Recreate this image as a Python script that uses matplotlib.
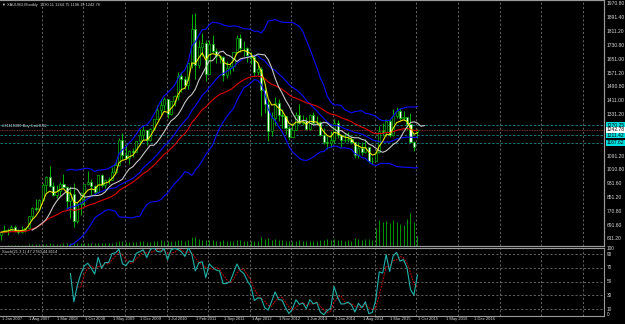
"""Monthly XAUUSD candles with moving averages, Bollinger bands, volume and stochastic."""

import matplotlib.pyplot as plt
import pandas as pd
from matplotlib.transforms import blended_transform_factory

plt.rcParams['font.family'] = ['Liberation Sans', 'DejaVu Sans']

# monthly bars, bar 0 = Jan 2007, one row of 12 per year
opens = [632, 650, 665, 662, 681, 657, 650, 665, 672, 743, 789, 783,
         834, 923, 972, 916, 865, 887, 928, 913, 833, 871, 718, 814,
         880, 927, 942, 916, 884, 980, 926, 955, 955, 1001, 1040, 1182,
         1096, 1081, 1118, 1113, 1180, 1213, 1244, 1181, 1247, 1307, 1357, 1386,
         1421, 1332, 1411, 1439, 1556, 1536, 1500, 1628, 1826, 1620, 1723, 1746,
         1564, 1737, 1697, 1668, 1664, 1561, 1598, 1614, 1692, 1773, 1719, 1714,
         1675, 1663, 1578, 1596, 1476, 1393, 1234, 1313, 1396, 1327, 1323, 1253,
         1202, 1244, 1326, 1284, 1296, 1246, 1327, 1282, 1287, 1210, 1171, 1167,
         1184, 1283, 1213, 1183, 1184, 1190, 1172, 1095, 1135, 1115, 1142, 1065,
         1061, 1116, 1238, 1233, 1293, 1215, 1322, 1351, 1309, 1316, 1277, 1173,
         1230.11]
highs = [660, 690, 672, 692, 692, 669, 684, 675, 745, 795, 845, 840,
         933, 975, 1033, 940, 924, 938, 988, 915, 920, 935, 825, 883,
         930, 1006, 960, 925, 981, 989, 960, 967, 1025, 1071, 1195, 1227,
         1163, 1127, 1140, 1180, 1249, 1265, 1244, 1251, 1308, 1388, 1424, 1431,
         1424, 1411, 1447, 1576, 1577, 1556, 1632, 1913, 1921, 1764, 1803, 1764,
         1763, 1791, 1718, 1678, 1668, 1640, 1628, 1692, 1790, 1796, 1755, 1723,
         1695, 1684, 1617, 1605, 1488, 1424, 1348, 1434, 1424, 1361, 1325, 1267,
         1280, 1345, 1392, 1331, 1315, 1332, 1345, 1322, 1293, 1255, 1205, 1238,
         1307, 1297, 1219, 1224, 1232, 1205, 1175, 1170, 1170, 1191, 1142, 1088,
         1127, 1263, 1283, 1304, 1304, 1362, 1375, 1367, 1353, 1317, 1338, 1180,
         1244.75]
lows = [608, 646, 636, 661, 653, 640, 647, 650, 668, 723, 774, 782,
        834, 885, 911, 860, 850, 860, 908, 786, 735, 681, 705, 750,
        803, 925, 866, 865, 879, 913, 906, 932, 952, 995, 1033, 1075,
        1074, 1044, 1087, 1112, 1156, 1185, 1155, 1178, 1241, 1307, 1330, 1357,
        1309, 1328, 1380, 1418, 1462, 1478, 1480, 1603, 1535, 1600, 1670, 1523,
        1564, 1690, 1628, 1628, 1527, 1542, 1565, 1583, 1690, 1692, 1672, 1636,
        1626, 1555, 1562, 1321, 1338, 1180, 1208, 1272, 1291, 1251, 1221, 1182,
        1202, 1240, 1277, 1268, 1240, 1240, 1281, 1280, 1207, 1161, 1130, 1142,
        1167, 1197, 1142, 1170, 1170, 1162, 1077, 1080, 1099, 1107, 1053, 1046,
        1061, 1108, 1208, 1207, 1199, 1208, 1310, 1302, 1302, 1241, 1171, 1122,
        1198.19]
closes = [650, 665, 662, 681, 657, 650, 665, 672, 743, 789, 783, 834,
          923, 972, 916, 865, 887, 928, 913, 833, 871, 718, 814, 880,
          927, 942, 916, 884, 980, 926, 955, 955, 1001, 1040, 1182, 1096,
          1081, 1118, 1113, 1180, 1213, 1244, 1181, 1247, 1307, 1357, 1386, 1421,
          1332, 1411, 1439, 1556, 1536, 1500, 1628, 1826, 1620, 1723, 1746, 1564,
          1737, 1697, 1668, 1664, 1561, 1598, 1614, 1692, 1773, 1719, 1714, 1675,
          1663, 1578, 1596, 1476, 1393, 1234, 1313, 1396, 1327, 1323, 1253, 1202,
          1244, 1326, 1284, 1296, 1246, 1327, 1282, 1287, 1210, 1171, 1167, 1184,
          1283, 1213, 1183, 1184, 1190, 1172, 1095, 1135, 1115, 1142, 1065, 1061,
          1116, 1238, 1233, 1293, 1215, 1322, 1351, 1309, 1316, 1277, 1173, 1146,
          1242.78]
volumes = [0, 0, 1, 1, 1, 1, 1, 1, 2, 2, 2, 2,
           2, 2, 3, 2, 2, 2, 3, 3, 3, 4, 3, 3,
           3, 3, 3, 3, 3, 3, 3, 3, 3, 4, 5, 5,
           4, 4, 4, 4, 5, 5, 4, 4, 5, 5, 6, 5,
           5, 5, 5, 6, 6, 5, 6, 9, 9, 7, 6, 6,
           6, 6, 5, 5, 6, 5, 5, 5, 6, 6, 5, 5,
           5, 5, 5, 9, 7, 8, 6, 7, 6, 6, 5, 5,
           5, 5, 6, 5, 5, 5, 5, 5, 6, 6, 7, 6,
           7, 6, 6, 5, 6, 5, 8, 7, 6, 7, 7, 6,
           18, 26, 24, 25, 23, 26, 24, 22, 21, 27, 33, 24,
           10]

date_labels = ['1 Jan 2007', '1 Aug 2007', '1 Mar 2008', '1 Oct 2008',
               '1 May 2009', '1 Dec 2009', '1 Jul 2010', '1 Feb 2011',
               '1 Sep 2011', '1 Apr 2012', '1 Nov 2012', '1 Jun 2013',
               '1 Jan 2014', '1 Aug 2014', '1 Mar 2015', '1 Oct 2015',
               '1 May 2016', '1 Dec 2016']
price_ticks = [1970.80, 1891.40, 1811.20, 1730.80, 1651.00, 1571.20, 1490.80,
               1411.00, 1331.20, 1091.20, 1010.80, 931.60, 851.20, 770.80,
               691.60, 611.20]
level_prices = [1270.25, 1211.42, 1167.62]
bid_price = 1242.78
stoch_levels = [10, 30, 50, 70, 90]
stoch_labels = ['100', '90', '70', '50', '30', '10', '0']
stoch_label_pos = [98, 90, 70, 50, 30, 10, 1.5]

GREEN = '#00b400'
GRID = '#8a8a8a'
TEXT = '#d8d8d8'
BAR_PX = 3.47          # pixels per monthly bar in the original screenshot

# indicators as configured on the chart
price = pd.DataFrame({'o': opens, 'h': highs, 'l': lows, 'c': closes})
ema_fast = price['c'].ewm(span=5, adjust=False).mean()
sma_shift = price['c'].rolling(8).mean()
ema_slow = price['c'].ewm(span=30, adjust=False).mean()
bb_mid = price['c'].rolling(20).mean()
bb_std = price['c'].rolling(20).std(ddof=0)
lowest = price['l'].rolling(21).min()
highest = price['h'].rolling(21).max()
stoch_main = 100 * (price['c'] - lowest) / (highest - lowest)
stoch_signal = stoch_main.rolling(3).mean()

fig = plt.figure(figsize=(6.25, 3.24), dpi=100, facecolor='black')
ax = fig.add_axes([0, 1 - 246 / 324, 604 / 625, 246 / 324])
axs = fig.add_axes([0, 1 - 316 / 324, 604 / 625, 68 / 324], facecolor='black')
axv = fig.add_axes(ax.get_position(), sharex=ax)
axv.set_zorder(ax.get_zorder() - 1)
axv.set_facecolor('black')
ax.patch.set_visible(False)

x_lo, x_hi = -1 / BAR_PX, 603 / BAR_PX
for a in (ax, axs, axv):
    a.set_xlim(x_lo, x_hi)
    a.set_xticks([])
    a.set_yticks([])
    for sp in a.spines.values():
        sp.set_color('#9a9a9a')
        sp.set_linewidth(0.8)
    a.spines['left'].set_visible(False)
for k in range(1, 15):
    for a in (axv, axs):
        a.axvline(12 * k - 0.3, color=GRID, lw=0.5, ls=(0, (3, 3)), zorder=0)

ax.set_ylim(570.6, 1993.9)
axs.set_ylim(0, 99)

# volume overlay
axv.set_ylim(0, 246)
axv.vlines(price.index, 0, volumes, color='#009400', lw=0.7, zorder=1)

# candles
ax.vlines(price.index, price['l'], price['h'], color=GREEN, lw=0.7, zorder=3)
for i, row in price.iterrows():
    bull = row['c'] >= row['o']
    ax.bar(i, abs(row['c'] - row['o']) or 1, bottom=min(row['o'], row['c']),
           width=0.6, color='black' if bull else 'white', edgecolor=GREEN,
           lw=0.5, zorder=4)

# averages and bands
for band in (bb_mid + 2 * bb_std, bb_mid, bb_mid - 2 * bb_std):
    ax.plot(price.index, band, color='#0a0aff', lw=0.8, zorder=5)
ax.plot(price.index, ema_slow, color='#e00000', lw=0.8, zorder=5)
ax.plot(price.index + 2, sma_shift, color='#c8c8c8', lw=0.8, zorder=6)
ax.plot(price.index, ema_fast, color='#e6e600', lw=0.8, zorder=6)

# order / level lines
for p in level_prices:
    ax.axhline(p, color='#1a8a8a', lw=0.6, ls=(0, (3, 2)), zorder=2)
ax.axhline(bid_price, color='#a04040', lw=0.6, ls=(0, (1, 1)), zorder=2)
ax.text(0.004, bid_price + 12, '#31115309 Buy limit 0.02', color=TEXT,
        fontsize=2.9, transform=ax.get_yaxis_transform(), va='bottom')

# header text
ax.text(0.004, 0.988, '\u25bc XAUUSD,Monthly  1230.11 1244.75 1198.19 1242.78',
        color=TEXT, fontsize=2.8, transform=ax.transAxes, va='top')

# right price scale
ytr = ax.get_yaxis_transform()
for p in price_ticks:
    ax.text(1.005, p, f'{p:.2f}', color=TEXT, fontsize=3.6, transform=ytr,
            va='center', ha='left', clip_on=False)
for p in level_prices:
    ax.text(1.005, p, f'{p:.2f}', color='black', fontsize=3.6, transform=ytr,
            va='center', ha='left', clip_on=False,
            bbox=dict(boxstyle='square,pad=0.15', fc='#00e0e0', ec='none'))
ax.text(1.005, bid_price, f'{bid_price:.2f}', color='black', fontsize=3.6,
        transform=ytr, va='center', ha='left', clip_on=False,
        bbox=dict(boxstyle='square,pad=0.15', fc='white', ec='none'))

# stochastic panel
for lv in stoch_levels:
    axs.axhline(lv, color=GRID, lw=0.5, ls=(0, (3, 3)), zorder=0)
axs.plot(price.index, stoch_main, color='#20b2aa', lw=0.8, zorder=3)
axs.plot(price.index, stoch_signal, color='#c00000', lw=0.7,
         ls=(0, (2, 1)), zorder=2)
axs.text(0.004, 0.97, 'Stoch(21,3,1) 47.2780 44.8114', color=TEXT,
         fontsize=2.9, transform=axs.transAxes, va='top')
str_ = axs.get_yaxis_transform()
for v, lab in zip(stoch_label_pos, stoch_labels):
    axs.text(1.005, v, lab, color=TEXT, fontsize=3.4, transform=str_,
             va='center', ha='left', clip_on=False)

# date scale
xtr = blended_transform_factory(axs.transData, fig.transFigure)
for k, lab in enumerate(date_labels):
    axs.text(8 * k + 0.2, 1 - 319 / 324, lab, color=TEXT, fontsize=3.0,
             transform=xtr, va='center', ha='left', clip_on=False)

fig.savefig('out.png', dpi=100, facecolor='black')
